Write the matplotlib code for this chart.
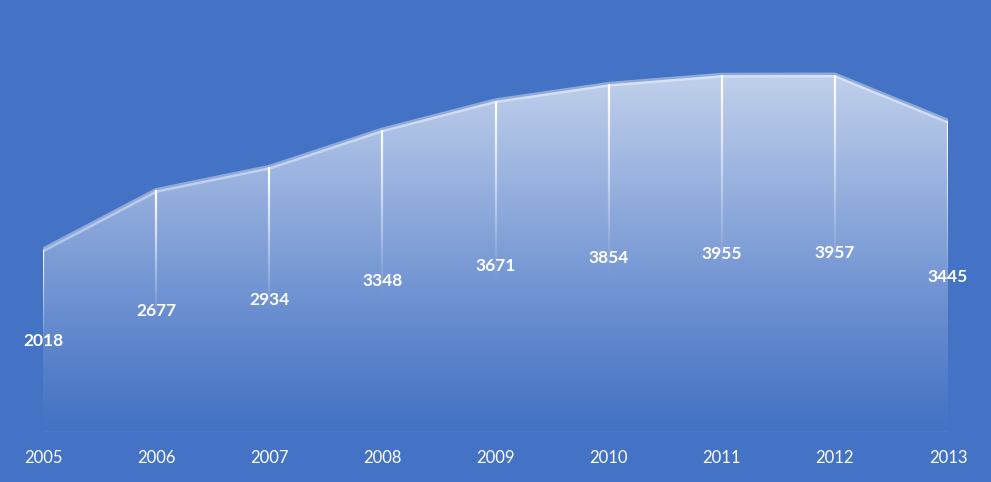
import numpy as np
import matplotlib
matplotlib.use("Agg")
import matplotlib.pyplot as plt
from matplotlib.collections import LineCollection
from matplotlib.patches import Polygon

years = ["2005", "2006", "2007", "2008", "2009", "2010", "2011", "2012", "2013"]
values = [2018, 2677, 2934, 3348, 3671, 3854, 3955, 3957, 3445]

BG = "#4472C4"
W, H = 991, 482

fig = plt.figure(figsize=(W / 100, H / 100), dpi=100, facecolor=BG)
ax = fig.add_axes([43 / W, 50 / H, 905 / W, 406 / H])
ax.set_facecolor(BG)

x = np.arange(len(values))
ymax = 4500
ax.set_xlim(0, len(values) - 1)
ax.set_ylim(0, ymax)

# gradient fill under the line, clipped to the area polygon
grad = np.linspace(0, 1, 256).reshape(-1, 1)
rgba = np.ones((256, 1, 4))
rgba[..., 3] = 0.68 * np.clip(grad[::-1] * ymax / 4000, 0, 1) ** 1.1
rgba = rgba[::-1]
img = ax.imshow(rgba, extent=[0, len(values) - 1, 0, ymax], origin="lower",
                aspect="auto", zorder=1, interpolation="bilinear")
poly = Polygon(np.column_stack([np.r_[x, x[::-1]], np.r_[values, np.zeros(len(x))]]),
               closed=True, facecolor="none", edgecolor="none")
ax.add_patch(poly)
img.set_clip_path(poly)

# top edge
ax.plot(x, values, color="white", alpha=0.4, lw=3.5, zorder=2,
        solid_joinstyle="miter", solid_capstyle="butt")

# fading drop lines
n = 60
for xi, v in zip(x, values):
    ys = np.linspace(v, 0, n + 1)
    segs = [[(xi, ys[k]), (xi, ys[k + 1])] for k in range(n)]
    a = np.clip(1 - np.linspace(0, 1, n) * 1.8, 0, 1) ** 1.2
    cols = [(1, 1, 1, ai) for ai in a]
    ax.add_collection(LineCollection(segs, colors=cols, linewidths=1.6, zorder=3))

# baseline
ax.axhline(0, color="white", alpha=0.35, lw=0.9, zorder=3)

for xi, v in zip(x, values):
    ax.text(xi, v / 2, str(v), ha="center", va="center", color="white",
            fontsize=12.5, fontweight="bold", family="Lato", zorder=4)

ax.set_xticks(x)
ax.set_xticklabels(years, color="white", fontsize=12, family="Lato")
ax.tick_params(axis="x", length=0, pad=13)
ax.set_yticks([])
for s in ax.spines.values():
    s.set_visible(False)

fig.savefig("out.png", dpi=100, facecolor=BG)
